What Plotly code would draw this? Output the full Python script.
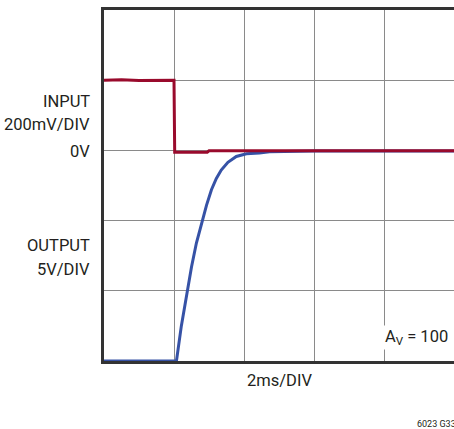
import plotly.graph_objects as go

# time axis in ms (2 ms/div)
input_t_ms = [0.0, 0.5, 1.0, 1.5, 2.0, 2.02, 2.5, 2.95, 3.0, 5.0, 7.5, 10.0]
input_mv = [200, 201, 199, 200, 200, -5, -5, -5, -1, -1, -1, -1]

output_t_ms = [0.0, 1.0, 2.07, 2.21, 2.36, 2.50, 2.64, 2.78, 2.93, 3.07, 3.21,
               3.35, 3.54, 3.78, 4.07, 4.44, 4.73, 6.0, 8.0, 10.0]
output_v = [-15.0, -15.0, -15.0, -12.5, -10.2, -8.3, -6.6, -5.2, -3.9, -2.8, -2.0,
            -1.4, -0.85, -0.43, -0.24, -0.18, -0.1, -0.05, -0.05, -0.05]

INPUT_V_PER_DIV = 0.2   # 200mV/DIV
OUTPUT_V_PER_DIV = 5.0  # 5V/DIV

input_div = [v / 1000.0 / INPUT_V_PER_DIV for v in input_mv]
output_div = [v / OUTPUT_V_PER_DIV for v in output_v]

FONT = "Roboto, Liberation Sans, Arial, sans-serif"
TXT = "#231f20"
FS = 16.5

fig = go.Figure()
fig.add_trace(go.Scatter(x=output_t_ms, y=output_div, mode="lines",
                         line=dict(color="#3652a6", width=3), showlegend=False))
fig.add_trace(go.Scatter(x=input_t_ms, y=input_div, mode="lines",
                         line=dict(color="#990a2c", width=3), showlegend=False))

fig.update_layout(
    width=454, height=429,
    margin=dict(l=104, r=0, t=10, b=68),
    paper_bgcolor="white", plot_bgcolor="white",
    font=dict(family=FONT, color=TXT, size=FS),
    xaxis=dict(range=[0, 10], dtick=2, showgrid=True, gridcolor="#8a8a8a", gridwidth=1.3,
               showticklabels=False, zeroline=False, showline=True, linecolor="#333333",
               linewidth=2.5, mirror=True, ticks=""),
    yaxis=dict(range=[-3, 2], dtick=1, showgrid=True, gridcolor="#8a8a8a", gridwidth=1.3,
               showticklabels=False, zeroline=False, showline=True, linecolor="#333333",
               linewidth=2.5, mirror=False, ticks=""),
)

left_labels = [("INPUT", 0.69), ("200mV/DIV", 0.37), ("0V", -0.01),
               ("OUTPUT", -1.36), ("5V/DIV", -1.69)]
for txt, yv in left_labels:
    fig.add_annotation(text=txt, xref="paper", x=-(104 - 92) / 350, yref="y", y=yv,
                       xanchor="right", yanchor="middle", showarrow=False,
                       font=dict(family=FONT, size=FS, color=TXT))

fig.add_annotation(text="2ms/DIV", xref="x", x=5, yref="paper", y=-0.024,
                   xanchor="center", yanchor="top", showarrow=False,
                   font=dict(family=FONT, size=FS, color=TXT))

fig.add_annotation(text="A<sub>V</sub> = 100", xref="x", x=7.97, yref="y", y=-2.67,
                   xanchor="left", yanchor="middle", showarrow=False,
                   bgcolor="white", borderpad=1,
                   font=dict(family=FONT, size=FS, color=TXT))

fig.add_annotation(text="6023 G33", xref="paper", x=(415 - 104) / 350, yref="paper",
                   y=-(424 - 361) / 351, xanchor="left", yanchor="middle", showarrow=False,
                   font=dict(family=FONT, size=9, color=TXT))

fig.write_html("out.html", config={"displayModeBar": False},
               post_script="document.body.style.margin='0';document.body.style.overflow='hidden';")
